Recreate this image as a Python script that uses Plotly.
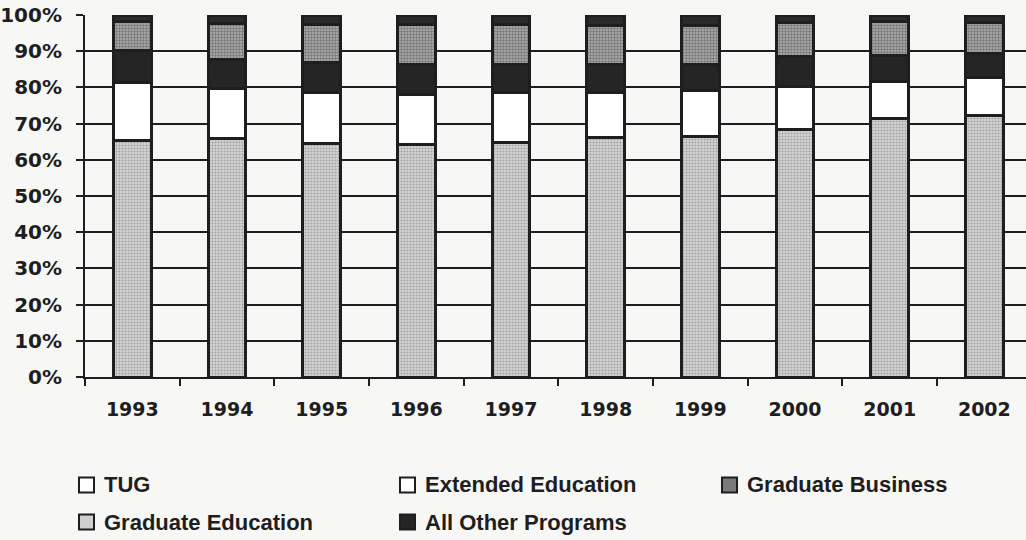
import plotly.graph_objects as go

# Share of enrolment by program, in percent of each year's total
years = ["1993", "1994", "1995", "1996", "1997", "1998", "1999", "2000", "2001", "2002"]
graduate_education = [65.4, 65.8, 64.5, 64.1, 64.7, 66.2, 66.4, 68.4, 71.3, 72.3]
extended_education = [15.9, 13.8, 14.2, 14.0, 13.8, 12.5, 12.7, 11.9, 10.4, 10.5]
all_other_programs = [9.0, 8.1, 8.1, 8.1, 7.8, 7.6, 7.3, 8.2, 7.1, 6.6]
graduate_business = [7.9, 10.0, 10.6, 11.2, 11.1, 10.8, 10.7, 9.5, 9.5, 8.6]
tug = [1.8, 2.3, 2.6, 2.6, 2.6, 2.9, 2.9, 2.0, 1.7, 2.0]

y_ticks = list(range(0, 101, 10))
y_tick_labels = [f"{v}%" for v in y_ticks]

INK = "#1e1e1e"
BG = "#f7f7f6"
TICK_FONT = dict(family="DejaVu Sans", size=19, color=INK, weight="bold")
LEGEND_FONT = dict(family="Liberation Sans", size=22, color=INK, weight="bold")

# pixel geometry of the plotting area
L, R, T, B = 85, 1026, 15, 377
W, H = 1026, 540


def px(x):
    return (x - L) / (R - L)


def py(y):
    return (B - y) / (B - T)


series = [
    ("Graduate Education", graduate_education,
     dict(color="#d2d2d2", pattern=dict(shape=".", fgcolor="#6e6e6e", bgcolor="#d2d2d2",
                                        size=3, solidity=0.35))),
    ("Extended Education", extended_education, dict(color="#ffffff")),
    ("All Other Programs", all_other_programs, dict(color="#252525")),
    ("Graduate Business", graduate_business,
     dict(color="#a4a4a4", pattern=dict(shape=".", fgcolor="#3c3c3c", bgcolor="#b0b0b0",
                                        size=3, solidity=0.5))),
    ("TUG", tug, dict(color="#2a2a2a")),
]

fig = go.Figure()
for name, vals, marker in series:
    fig.add_trace(go.Bar(
        x=years, y=vals, name=name, width=0.40, showlegend=False,
        marker=dict(line=dict(color=INK, width=3), **marker),
    ))

fig.update_layout(
    width=W, height=H,
    barmode="stack",
    paper_bgcolor=BG, plot_bgcolor=BG,
    margin=dict(l=L, r=W - R, t=T, b=H - B, pad=0),
    xaxis=dict(
        type="category", range=[-0.5, 9.44],
        showline=True, linecolor=INK, linewidth=2,
        ticks="outside", tickson="boundaries", ticklen=7, tickwidth=2, tickcolor=INK,
        tickfont=TICK_FONT, ticklabelstandoff=14, showgrid=False,
    ),
    yaxis=dict(
        range=[0, 100], tickmode="array", tickvals=y_ticks, ticktext=y_tick_labels,
        showline=True, linecolor=INK, linewidth=2,
        ticks="outside", ticklen=7, tickwidth=2, tickcolor=INK,
        tickfont=dict(TICK_FONT, size=20), ticklabelstandoff=10,
        showgrid=True, gridcolor=INK, gridwidth=2, zeroline=False,
    ),
)

# legend laid out in a three-column grid below the axis
legend_items = [
    ("TUG", 79, 485, "#ffffff"),
    ("Extended Education", 400, 485, "#ffffff"),
    ("Graduate Business", 722, 485, "#7a7a7a"),
    ("Graduate Education", 79, 522, "#d0d0d0"),
    ("All Other Programs", 400, 522, "#252525"),
]
box = 15
for label, x0, yc, fill in legend_items:
    fig.add_shape(
        type="rect", xref="paper", yref="paper",
        x0=px(x0), x1=px(x0 + box), y0=py(yc + box / 2), y1=py(yc - box / 2),
        fillcolor=fill, line=dict(color=INK, width=2),
    )
    fig.add_annotation(
        text=label, xref="paper", yref="paper",
        x=px(x0 + box + 8), y=py(yc), xanchor="left", yanchor="middle",
        showarrow=False, font=LEGEND_FONT,
    )

fig.write_html("out.html")
